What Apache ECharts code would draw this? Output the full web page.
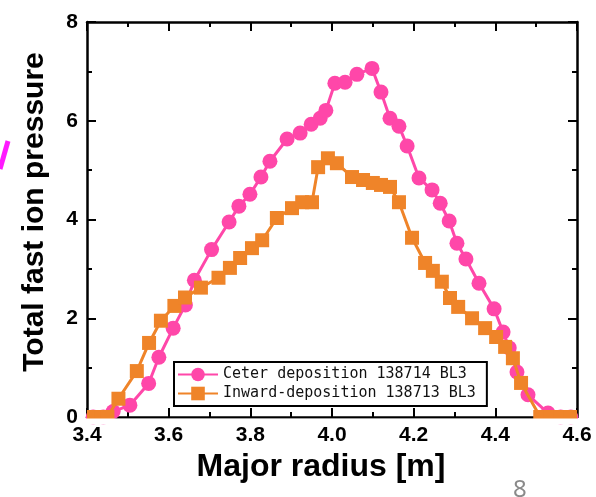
<!DOCTYPE html>
<html>
<head>
<meta charset="utf-8">
<title>Total fast ion pressure profile</title>
<script src="https://cdn.jsdelivr.net/npm/echarts@6/dist/echarts.min.js"></script>
<style>
  html, body { margin: 0; padding: 0; background: #ffffff; }
  #chart { width: 596px; height: 497px; }
</style>
</head>
<body>
<div id="chart"></div>
<script>
// Shot labels
const seriesNames = ['Ceter deposition 138714 BL3', 'Inward-deposition 138713 BL3'];

// Axis ticks
const xTicks = [3.4, 3.6, 3.8, 4.0, 4.2, 4.4, 4.6];
const yTicks = [0, 2, 4, 6, 8];

// Center deposition (138714 BL3): major radius [m] and pressure
const centerR = [3.415, 3.44, 3.464, 3.505, 3.551, 3.576, 3.611, 3.641, 3.663, 3.705,
  3.748, 3.772, 3.799, 3.826, 3.848, 3.89, 3.922, 3.949, 3.971, 3.985,
  4.007, 4.032, 4.061, 4.098, 4.12, 4.142, 4.164, 4.184, 4.213, 4.245,
  4.265, 4.287, 4.306, 4.328, 4.36, 4.397, 4.419, 4.434, 4.453, 4.48,
  4.529, 4.56, 4.585];
const centerP = [0, 0, 0.11, 0.24, 0.68, 1.21, 1.80, 2.27, 2.77, 3.39,
  3.95, 4.27, 4.51, 4.86, 5.18, 5.63, 5.75, 5.93, 6.05, 6.21,
  6.76, 6.78, 6.94, 7.06, 6.58, 6.05, 5.89, 5.49, 4.84, 4.60,
  4.33, 3.97, 3.52, 3.20, 2.71, 2.19, 1.72, 1.40, 0.91, 0.45,
  0.08, 0, 0];

// Inward deposition (138713 BL3): major radius [m] and pressure
const inwardR = [3.417, 3.435, 3.45, 3.477, 3.522, 3.552, 3.581, 3.614, 3.64, 3.679,
  3.722, 3.75, 3.775, 3.804, 3.829, 3.865, 3.902, 3.927, 3.951, 3.966,
  3.99, 4.012, 4.049, 4.076, 4.10, 4.12, 4.142, 4.164, 4.196, 4.228,
  4.247, 4.269, 4.289, 4.309, 4.343, 4.375, 4.402, 4.424, 4.443, 4.463,
  4.51, 4.535, 4.56, 4.583];
const inwardP = [0, 0, 0, 0.37, 0.93, 1.50, 1.95, 2.25, 2.42, 2.62,
  2.82, 3.02, 3.22, 3.42, 3.58, 4.03, 4.23, 4.35, 4.35, 5.06,
  5.24, 5.14, 4.86, 4.80, 4.74, 4.70, 4.66, 4.35, 3.63, 3.12,
  2.96, 2.74, 2.41, 2.23, 2.00, 1.80, 1.62, 1.42, 1.19, 0.69,
  0, 0, 0, 0];

const pink = '#ff47a9';
const orange = '#ef8429';
const labelFont = 'Liberation Sans, Arial, sans-serif';

const pairs = (xs, ys) => xs.map((x, i) => [x, ys[i]]);

const chart = echarts.init(document.getElementById('chart'), null, { renderer: 'canvas' });

const frameAxis = {
  axisLine: { show: true, onZero: false, lineStyle: { color: '#000', width: 2.5 } },
  axisTick: { show: true, inside: true, length: 9, lineStyle: { color: '#000', width: 2 } },
  minorTick: { show: true, splitNumber: 2, length: 5, lineStyle: { color: '#000', width: 2 } },
  splitLine: { show: false },
  minorSplitLine: { show: false }
};

chart.setOption({
  animation: false,
  backgroundColor: '#ffffff',
  grid: { left: 87, right: 19, top: 22, bottom: 80, containLabel: false },
  xAxis: [
    Object.assign({
      type: 'value', position: 'bottom',
      min: xTicks[0], max: xTicks[xTicks.length - 1], interval: 0.2,
      name: 'Major radius [m]', nameLocation: 'middle', nameGap: 29,
      nameTextStyle: { fontFamily: labelFont, fontSize: 32, fontWeight: 'bold', color: '#000', padding: [0, 22, 0, 0] },
      axisLabel: {
        show: true, margin: 8, fontFamily: labelFont, fontSize: 21, fontWeight: 'bold', color: '#000',
        formatter: v => Number(v).toFixed(1)
      }
    }, frameAxis),
    Object.assign({
      type: 'value', position: 'top',
      min: xTicks[0], max: xTicks[xTicks.length - 1], interval: 0.2,
      axisLabel: { show: false }
    }, frameAxis)
  ],
  yAxis: [
    Object.assign({
      type: 'value', position: 'left',
      min: yTicks[0], max: yTicks[yTicks.length - 1], interval: 2,
      name: 'Total fast ion pressure', nameLocation: 'middle', nameGap: 37, nameRotate: 90,
      nameTextStyle: { fontFamily: labelFont, fontSize: 30, fontWeight: 'bold', color: '#000', padding: [0, 0, 0, 15] },
      axisLabel: {
        show: true, margin: 9, fontFamily: labelFont, fontSize: 21, fontWeight: 'bold', color: '#000',
        formatter: v => String(v)
      }
    }, frameAxis),
    Object.assign({
      type: 'value', position: 'right',
      min: yTicks[0], max: yTicks[yTicks.length - 1], interval: 2,
      axisLabel: { show: false }
    }, frameAxis)
  ],
  legend: {
    orient: 'vertical',
    left: 174, top: 362,
    padding: [5, 11, 5, 3],
    itemGap: 4,
    itemWidth: 40, itemHeight: 17,
    backgroundColor: '#ffffff',
    borderColor: '#000', borderWidth: 2,
    textStyle: { fontFamily: 'DejaVu Sans Mono, monospace', fontSize: 15, color: '#111' },
    data: seriesNames
  },
  series: [
    {
      name: seriesNames[0], type: 'line', xAxisIndex: 0, yAxisIndex: 0,
      data: pairs(centerR, centerP),
      symbol: 'circle', symbolSize: 15, z: 3,
      lineStyle: { color: pink, width: 3 },
      itemStyle: { color: pink }
    },
    {
      name: seriesNames[1], type: 'line', xAxisIndex: 0, yAxisIndex: 0,
      data: pairs(inwardR, inwardP),
      symbol: 'rect', symbolSize: 14, z: 4,
      lineStyle: { color: orange, width: 3 },
      itemStyle: { color: orange }
    }
  ],
  graphic: [
    // masks marker halves that fall below the bottom frame line
    { type: 'rect', z: 100, silent: true,
      shape: { x: 84, y: 418.4, width: 500, height: 6 },
      style: { fill: '#ffffff' } },
    // magenta pen stroke at the left margin
    { type: 'line', z: 100, silent: true,
      shape: { x1: 8, y1: 141, x2: 0, y2: 169 },
      style: { stroke: '#ff1aff', lineWidth: 5 } },
    // page number
    { type: 'text', z: 100, silent: true, left: 513, top: 478,
      style: { text: '8', fontFamily: 'Noto Sans, sans-serif', fontSize: 24, fill: '#8a8a8a' } }
  ]
});
</script>
</body>
</html>
